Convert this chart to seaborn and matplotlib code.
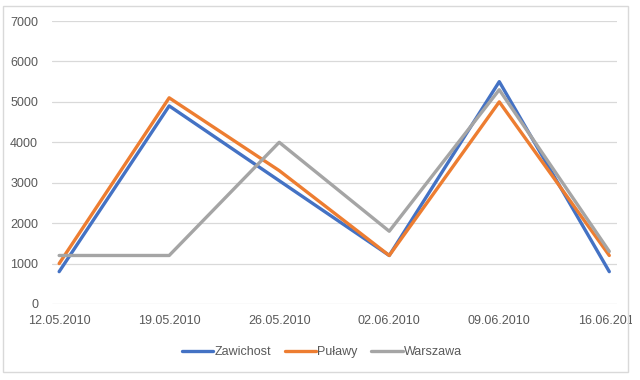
import matplotlib
matplotlib.use("Agg")
import matplotlib.pyplot as plt
from matplotlib.patches import Rectangle
from matplotlib.transforms import Bbox
import seaborn as sns
import pandas as pd

# data
dates = ["12.05.2010", "19.05.2010", "26.05.2010", "02.06.2010", "09.06.2010", "16.06.2010"]
zawichost = [800, 4900, 3050, 1200, 5500, 800]
pulawy = [1000, 5100, 3300, 1200, 5000, 1200]
warszawa = [1200, 1200, 4000, 1800, 5300, 1300]
series_names = ["Zawichost", "Puławy", "Warszawa"]
colors = ["#4472C4", "#ED7D31", "#A5A5A5"]

df = pd.DataFrame({"date": dates * 3,
                   "value": zawichost + pulawy + warszawa,
                   "series": [n for n in series_names for _ in dates]})

sns.set_style("white")
plt.rcParams["font.family"] = ["Liberation Sans", "DejaVu Sans"]

W, H = 640, 380
fig = plt.figure(figsize=(W / 100, H / 100), dpi=100)
ax = fig.add_axes([52 / W, 1 - 304 / H, (617 - 52) / W, (304 - 21) / H])

sns.lineplot(data=df, x="date", y="value", hue="series", palette=colors,
             linewidth=2.4, sort=False, ax=ax, legend=False)

ax.set_xlim(-0.065, 5.07)
ax.set_ylim(0, 7000)
ax.set_yticks(range(0, 7001, 1000))
ax.grid(axis="y", color="#D9D9D9", linewidth=0.9)
ax.grid(axis="x", visible=False)
ax.set_axisbelow(True)
for s in ax.spines.values():
    s.set_visible(False)
ax.set_xlabel("")
ax.set_ylabel("")
ax.tick_params(axis="both", length=0, labelsize=9, labelcolor="#595959")
ax.tick_params(axis="y", pad=10)
ax.tick_params(axis="x", pad=8)

# chart border and clip of the last date label as in the reference
frame = Rectangle((3 / W, 1 - 372 / H), (628 - 3) / W, (372 - 6) / H,
                  transform=fig.transFigure, fill=False, edgecolor="#D9D9D9", linewidth=1)
fig.patches.append(frame)
clip = Bbox.from_extents(0, 0, 632, H)
for lab in ax.get_xticklabels():
    lab.set_clip_box(clip)
    lab.set_clip_on(True)

handles = [plt.Line2D([], [], color=c, linewidth=2.4) for c in colors]
fig.legend(handles, series_names, loc="center", bbox_to_anchor=(322 / W, 1 - 352 / H),
           ncol=3, frameon=False, fontsize=9, handlelength=2.5, handletextpad=0.1,
           columnspacing=1.1, labelcolor="#595959")

fig.savefig("out.png", dpi=100)
